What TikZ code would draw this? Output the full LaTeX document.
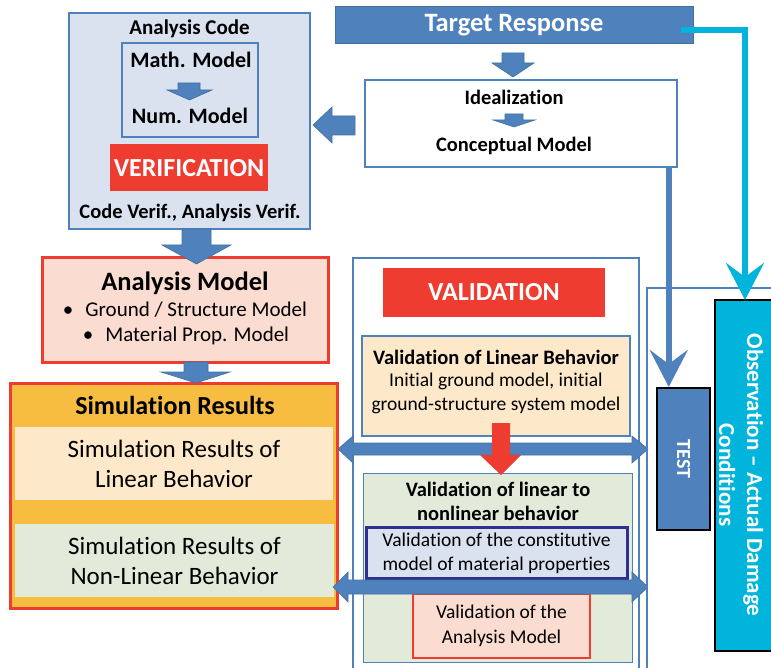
\documentclass[tikz,border=0pt]{standalone}
\usepackage{fontspec}
\setmainfont{Carlito}[Ligatures=NoCommon]
\usetikzlibrary{arrows.meta}

\definecolor{boxblue}{RGB}{79,129,189}
\definecolor{edgeblue}{RGB}{65,113,156}
\definecolor{codefill}{RGB}{218,225,239}
\definecolor{vred}{RGB}{238,60,48}
\definecolor{salmon}{RGB}{251,220,208}
\definecolor{simorange}{RGB}{246,189,65}
\definecolor{peach}{RGB}{253,233,201}
\definecolor{lightgreen}{RGB}{226,235,218}
\definecolor{navy}{RGB}{46,49,146}
\definecolor{obscyan}{RGB}{0,180,220}

\begin{document}
\begin{tikzpicture}[x=1pt,y=-1pt,
  frame/.style={draw=boxblue,line width=1.5pt,inner sep=0pt},
  redbox/.style={fill=vred,inner sep=0pt,text=white,font=\bfseries\fontsize{26pt}{28pt}\selectfont},
  blk/.style={fill=boxblue,draw=edgeblue,line width=0.6pt},
  txt/.style={inner sep=0pt,font=\fontsize{19.5pt}{23pt}\selectfont},
  btxt/.style={inner sep=0pt,font=\bfseries\fontsize{20.5pt}{22pt}\selectfont},
  conn/.style={line width=6.5pt,-{Stealth[length=37pt,width=38pt,inset=14pt]}}]
	\useasboundingbox (0,0) rectangle (771,668);
	
	% analysis code
	\node[frame,fill=codefill,minimum width=241pt,minimum height=216pt] (code) at (189.5,121) {};
	\node[btxt,font=\bfseries\fontsize{21pt}{22pt}\selectfont] (codet) at (189.5,29) {Analysis Code};
	\node[frame,line width=2.5pt,minimum width=136pt,minimum height=94pt] (math) at (190,90) {};
	\node[btxt,font=\bfseries\fontsize{22pt}{24pt}\selectfont] (matht) at (191,60) {Math. Model};
	\node[btxt,font=\bfseries\fontsize{22pt}{24pt}\selectfont] (numt) at (190,116) {Num. Model};
	\fill[blk] (178,83) -- (200,83) -- (200,90) -- (212,90) -- (189.5,100) -- (167,90) -- (178,90) -- cycle;
	\node[redbox,minimum width=158pt,minimum height=47pt] (verif) at (189,168) {VERIFICATION};
	\node[btxt] (verift) at (190,213) {Code Verif., Analysis Verif.};
	
	% target and idealization
	\node[fill=boxblue,draw=edgeblue,line width=1pt,minimum width=358pt,minimum height=37pt,
	  text=white,font=\bfseries\fontsize{26.5pt}{28pt}\selectfont] (target) at (514,25.5) {Target Response};
	\fill[blk] (502,53) -- (524,53) -- (524,63) -- (534,63) -- (513,77) -- (492,63) -- (502,63) -- cycle;
	\node[frame,fill=white,minimum width=312pt,minimum height=87pt] (ideal) at (521,123.5) {};
	\node[btxt] (idealt) at (514,97) {Idealization};
	\fill[blk] (505,114) -- (523,114) -- (523,120) -- (535,120) -- (514,127) -- (493,120) -- (505,120) -- cycle;
	\node[btxt] (concept) at (514,146) {Conceptual Model};
	\fill[blk] (355,116) -- (332,116) -- (332,107) -- (313,125) -- (332,143) -- (332,135) -- (355,135) -- cycle;
	
	% analysis model
	\node[draw=vred,line width=3pt,fill=salmon,minimum width=286pt,minimum height=104pt] (model) at (185,310) {};
	\fill[blk] (182,229) -- (211,229) -- (211,245) -- (231,245) -- (196.5,264) -- (162,245) -- (182,245) -- cycle;
	\node[txt,font=\bfseries\fontsize{26.5pt}{28pt}\selectfont] (modelt) at (185,283) {Analysis Model};
	\node[txt,font=\fontsize{21pt}{24pt}\selectfont] (bul1) at (185,310) {\textbullet\hspace{12pt}Ground / Structure Model};
	\node[txt,font=\fontsize{21pt}{24pt}\selectfont] (bul2) at (186,336) {\textbullet\hspace{12pt}Material Prop. Model};
	
	% simulation results
	\node[draw=vred,line width=3pt,fill=simorange,minimum width=327pt,minimum height=225pt] (sim) at (173.5,495.5) {};
	\fill[blk] (184,362) -- (208,362) -- (208,372) -- (230,372) -- (196,383) -- (161,372) -- (184,372) -- cycle;
	\node[txt,font=\bfseries\fontsize{26pt}{28pt}\selectfont] (simt) at (175,405) {Simulation Results};
	\node[fill=peach,inner sep=0pt,minimum width=318pt,minimum height=73pt,align=center,
	  font=\fontsize{25pt}{30pt}\selectfont] (simlin) at (174,463.5) {Simulation Results of\\Linear Behavior};
	\node[fill=lightgreen,inner sep=0pt,minimum width=319pt,minimum height=73pt,align=center,
	  font=\fontsize{25pt}{30pt}\selectfont] (simnon) at (174.5,560.5) {Simulation Results of\\Non-Linear Behavior};
	
	% validation
	\draw[boxblue,line width=1.5pt] (353,668) -- (353,258) -- (639,258) -- (639,668);
	\node[redbox,minimum width=222pt,minimum height=49pt] (valid) at (494,292.5) {VALIDATION};
	\node[frame,fill=peach,minimum width=268pt,minimum height=100pt] (vlin) at (496,386) {};
	\node[btxt] (vlint) at (496,357) {Validation of Linear Behavior};
	\node[txt] (vlin1) at (496,381) {Initial ground model, initial};
	\node[txt] (vlin2) at (496,405) {ground-structure system model};
	\node[draw=boxblue,line width=1pt,fill=lightgreen,minimum width=269pt,minimum height=189pt] (vnon) at (497.5,567.5) {};
	\node[btxt,align=center,font=\bfseries\fontsize{20.5pt}{24pt}\selectfont] (vnont) at (498,501) {Validation of linear to\\nonlinear behavior};
	\node[draw=navy,line width=3pt,fill=codefill,inner sep=0pt,minimum width=261pt,minimum height=51pt,align=center,
	  font=\fontsize{19.5pt}{24pt}\selectfont] (vmat) at (496.5,553) {Validation of the constitutive\\model of material properties};
	\node[draw=vred,line width=2.5pt,fill=salmon,inner sep=0pt,minimum width=177pt,minimum height=64pt,align=center,
	  font=\fontsize{19.5pt}{25pt}\selectfont] (vana) at (501.5,626) {Validation of the\\Analysis Model};
	\fill[blk] (338,449) -- (353,436) -- (353,443) -- (632,443) -- (632,436) -- (648,449) -- (632,463)
	  -- (632,455) -- (353,455) -- (353,463) -- cycle;
	\fill[blk] (333,587) -- (348,572) -- (348,580) -- (632,580) -- (632,572) -- (648,587) -- (632,602)
	  -- (632,594) -- (348,594) -- (348,602) -- cycle;
	\fill[vred] (492,423) -- (510,423) -- (510,455) -- (521,455) -- (501,475) -- (480,455) -- (492,455) -- cycle;
	
	% test and observation
	\draw[boxblue,line width=1.2pt] (647,668) -- (647,288) -- (771,288);
	\node[fill=boxblue,draw=black,line width=2pt,minimum width=53pt,minimum height=142pt] (test) at (683.5,459) {};
	\node[rotate=-90,text=white,font=\bfseries\fontsize{20pt}{22pt}\selectfont] (testt) at (test) {TEST};
	\node[fill=obscyan,draw=black,line width=2pt,minimum width=60pt,minimum height=351pt] (obs) at (745,475.5) {};
	\node[rotate=-90,align=center,text=white,font=\bfseries\fontsize{23pt}{28pt}\selectfont] (obst) at (741,475) {Observation -- Actual Damage\\Conditions};
	
	\coordinate (cstart) at ([xshift=-9pt,yshift=2pt]ideal.south east);
	\draw[conn,boxblue] (cstart) -- (cstart |- test.north);
	\draw[conn,obscyan,line width=6.5pt] ([xshift=-13pt,yshift=-4.5pt]target.east) -| ([yshift=-1pt]obs.north);
\end{tikzpicture}
\end{document}
